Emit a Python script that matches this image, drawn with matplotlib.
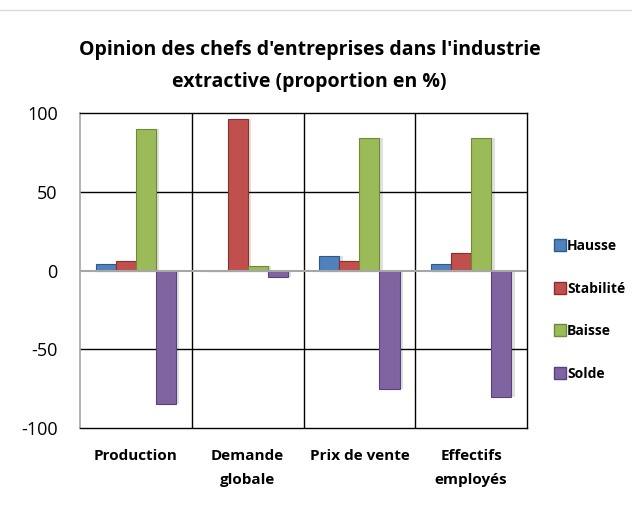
import numpy as np
import matplotlib.pyplot as plt
from matplotlib.lines import Line2D

categories = ["Production", "Demande\nglobale", "Prix de vente", "Effectifs\nemployés"]
series = ["Hausse", "Stabilité", "Baisse", "Solde"]
hausse = [4, 0, 9, 4]
stabilite = [6, 96, 6, 11]
baisse = [90, 3, 84, 84]
solde = [-85, -4, -75, -80]
colors = ["#4F81BD", "#C0504D", "#9BBB59", "#8064A2"]
edges = ["#2C5A8F", "#8E2D2A", "#6E8A36", "#57437A"]

plt.rcParams['font.family'] = ['Open Sans', 'DejaVu Sans']

fig = plt.figure(figsize=(6.32, 5.11), dpi=100)
ax = fig.add_axes([80 / 632, (511 - 428) / 511, (527 - 80) / 632, (428 - 113) / 511])

x = np.arange(len(categories))
w = 0.18
values = [hausse, stabilite, baisse, solde]
for i, (vals, c, ec) in enumerate(zip(values, colors, edges)):
    pos = x + (i - 1.5) * w
    # petite ombre
    ax.bar(pos + 0.03, vals, w, bottom=0, color="#000000", alpha=0.12, zorder=2,
           linewidth=0)
    ax.bar(pos, vals, w, color=c, edgecolor=ec, linewidth=0.8, zorder=3, label=series[i])

ax.set_xlim(-0.5, len(categories) - 0.5)
ax.set_ylim(-100, 100)
ax.set_yticks([-100, -50, 0, 50, 100])
ax.set_yticklabels(["-100", "-50", "0", "50", "100"], fontsize=13)
ax.tick_params(axis="y", length=0, pad=16)
ax.set_xticks([])

for yv in [-50, 50]:
    ax.axhline(yv, color="black", linewidth=1, zorder=1)
ax.axhline(0, color="#A6A6A6", linewidth=1.5, zorder=4)
for xv in [0.5, 1.5, 2.5]:
    ax.axvline(xv, color="black", linewidth=1, zorder=1)
for side in ["top", "right", "bottom"]:
    ax.spines[side].set_color("black")
    ax.spines[side].set_linewidth(1)
ax.spines["left"].set_color("#A6A6A6")
ax.spines["left"].set_linewidth(1.2)

for xi, lab in zip(x, categories):
    ax.text(xi, -0.068, lab, transform=ax.get_xaxis_transform(), ha="center", va="top",
            fontsize=11, fontweight="bold", linespacing=1.9)

fig.text(0.49, 1 - 66 / 511, "Opinion des chefs d'entreprises dans l'industrie\nextractive (proportion en %)",
         ha="center", va="center", fontsize=14, fontweight="bold", linespacing=1.75)

handles = [Line2D([], [], marker="s", linestyle="", markersize=8, markerfacecolor=c,
                  markeredgecolor=ec) for c, ec in zip(colors, edges)]
fig.legend(handles, series, loc="center left", bbox_to_anchor=(542 / 632, 1 - 310 / 511),
           frameon=False, handletextpad=0.1, labelspacing=2.05,
           handlelength=0.8, prop={"weight": "bold", "size": 10})

fig.add_artist(Line2D([0, 1], [1 - 10 / 511, 1 - 10 / 511], color="#D9D9D9", linewidth=1,
                      transform=fig.transFigure))

fig.savefig("out.png", dpi=100, facecolor="white")
